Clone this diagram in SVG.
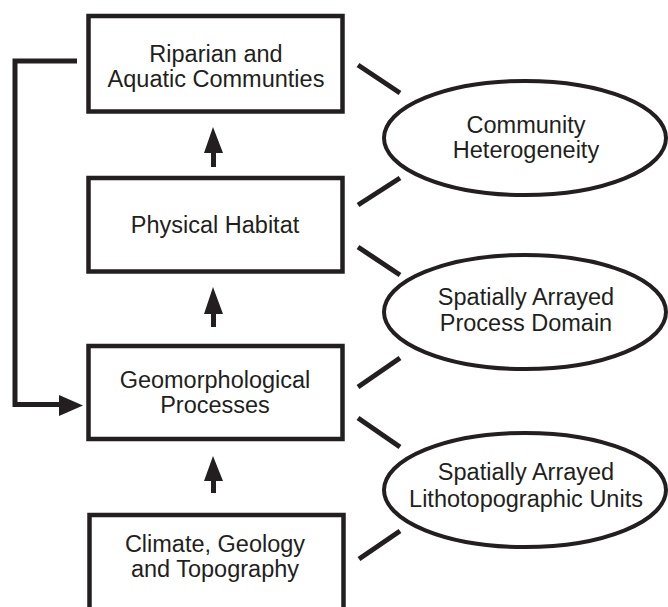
<svg xmlns="http://www.w3.org/2000/svg" width="668" height="607" viewBox="0 0 668 607">
<style>
.box{fill:#fff;stroke:#231f20;stroke-width:4.5}
.ell{fill:#fff;stroke:#231f20;stroke-width:4}
.t{font-family:"Liberation Sans",Arial,sans-serif;font-size:23.5px;fill:#231f20;text-anchor:middle}
.tick{stroke:#231f20;stroke-width:5;fill:none}
.ar{fill:#231f20}
</style>
<rect width="668" height="607" fill="#fff"/>
<g id="connectors">
<path d="M77,61 H15 V404.5 H62" fill="none" stroke="#231f20" stroke-width="5"/>
<polygon class="ar" points="59,395 83,405.5 59,416"/>
<polygon class="ar" points="213,127 223,153 216,153 216,167 211,167 211,153 204,153"/>
<polygon class="ar" points="213,287 223,314 216,314 216,327 211,327 211,314 204,314"/>
<polygon class="ar" points="213,456 223,481 216,481 216,493 211,493 211,481 204,481"/>
<line class="tick" x1="358" y1="65" x2="400" y2="93"/>
<line class="tick" x1="358" y1="205" x2="400" y2="178"/>
<line class="tick" x1="358" y1="247" x2="400" y2="275"/>
<line class="tick" x1="358" y1="387" x2="400" y2="358"/>
<line class="tick" x1="358" y1="418" x2="400" y2="447"/>
<line class="tick" x1="359" y1="559" x2="400" y2="531"/>
</g>
<g id="riparian">
<rect class="box" x="88.5" y="16" width="254" height="95.5"/>
<text class="t" x="216" y="62">Riparian and</text>
<text class="t" x="216" y="87">Aquatic Communties</text>
</g>
<g id="habitat">
<rect class="box" x="88.5" y="178" width="254" height="93.5"/>
<text class="t" x="215" y="233">Physical Habitat</text>
</g>
<g id="geomorph">
<rect class="box" x="88.5" y="346" width="254" height="93"/>
<text class="t" x="215" y="388">Geomorphological</text>
<text class="t" x="215" y="413">Processes</text>
</g>
<g id="climate">
<rect class="box" x="89.5" y="515" width="254" height="120"/>
<text class="t" x="215" y="552">Climate, Geology</text>
<text class="t" x="215" y="577">and Topography</text>
</g>
<g id="community">
<ellipse class="ell" cx="525" cy="138" rx="141" ry="57"/>
<text class="t" x="526" y="133">Community</text>
<text class="t" x="526" y="158">Heterogeneity</text>
</g>
<g id="process-domain">
<ellipse class="ell" cx="525" cy="312" rx="141" ry="57"/>
<text class="t" x="526" y="305">Spatially Arrayed</text>
<text class="t" x="526" y="331">Process Domain</text>
</g>
<g id="litho-units">
<ellipse class="ell" cx="525" cy="490" rx="141" ry="57"/>
<text class="t" x="526" y="480">Spatially Arrayed</text>
<text class="t" x="526" y="507">Lithotopographic Units</text>
</g>
</svg>
